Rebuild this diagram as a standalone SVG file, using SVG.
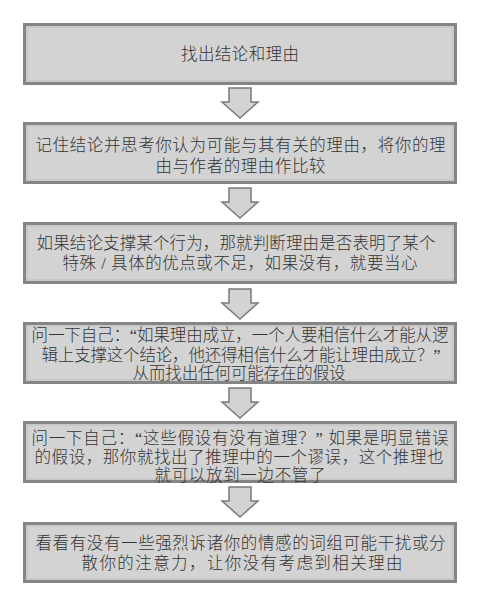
<svg xmlns="http://www.w3.org/2000/svg" xmlns:xlink="http://www.w3.org/1999/xlink" width="493" height="603" viewBox="0 0 493 603">
<style>
.box{fill:#d3d3d3;stroke:#858585;stroke-width:3}
.inner{fill:none;stroke:#bdbdbd;stroke-width:1}
.t{font-family:"Liberation Serif","Noto Sans CJK SC",serif;font-size:16.5px;font-weight:300;fill:#333333;text-anchor:middle;dominant-baseline:central}
.arrow{fill:#d3d3d3;stroke:#7a7a7a;stroke-width:1.5;stroke-linejoin:miter}
</style>
<defs>
<path id="arr" class="arrow" d="M229,0 H251 V14 H258 L240,30 L222,14 H229 Z"/>
</defs>
<rect width="493" height="603" fill="#ffffff"/>
<g id="connectors">
<use xlink:href="#arr" href="#arr" transform="translate(0,88)"/>
<use xlink:href="#arr" href="#arr" transform="translate(0,188)"/>
<use xlink:href="#arr" href="#arr" transform="translate(0,289)"/>
<use xlink:href="#arr" href="#arr" transform="translate(0,388)"/>
<use xlink:href="#arr" href="#arr" transform="translate(0,487)"/>
</g>
<g id="node1">
<rect class="box" x="24.5" y="24.5" width="431" height="59"/>
<rect class="inner" x="27" y="27" width="426" height="54"/>
<text class="t" x="240" y="54" textLength="118" lengthAdjust="spacing">找出结论和理由</text>
</g>
<g id="node2">
<rect class="box" x="24.5" y="123.5" width="431" height="59"/>
<rect class="inner" x="27" y="126" width="426" height="54"/>
<text class="t" x="240.5" y="145" textLength="410" lengthAdjust="spacing">记住结论并思考你认为可能与其有关的理由，将你的理</text>
<text class="t" x="240.5" y="166" textLength="170" lengthAdjust="spacing">由与作者的理由作比较</text>
</g>
<g id="node3">
<rect class="box" x="24.5" y="223.5" width="431" height="59"/>
<rect class="inner" x="27" y="226" width="426" height="54"/>
<text class="t" x="236" y="243" textLength="399" lengthAdjust="spacing">如果结论支撑某个行为，那就判断理由是否表明了某个</text>
<text class="t" x="240" y="263" textLength="355" lengthAdjust="spacing">特殊 / 具体的优点或不足，如果没有，就要当心</text>
</g>
<g id="node4">
<rect class="box" x="24.5" y="323.5" width="431" height="59"/>
<rect class="inner" x="27" y="326" width="426" height="54"/>
<text class="t" x="240" y="335" textLength="417" lengthAdjust="spacing">问一下自己：“如果理由成立，一个人要相信什么才能从逻</text>
<text class="t" x="241" y="355" textLength="399" lengthAdjust="spacing">辑上支撑这个结论，他还得相信什么才能让理由成立？”</text>
<text class="t" x="239" y="373" textLength="213" lengthAdjust="spacing">从而找出任何可能存在的假设</text>
</g>
<g id="node5">
<rect class="box" x="24.5" y="422.5" width="431" height="59"/>
<rect class="inner" x="27" y="425" width="426" height="54"/>
<text class="t" x="240" y="438" textLength="417" lengthAdjust="spacing">问一下自己：“这些假设有没有道理？” 如果是明显错误</text>
<text class="t" x="239" y="457" textLength="409" lengthAdjust="spacing">的假设，那你就找出了推理中的一个谬误，这个推理也</text>
<text class="t" x="240" y="475" textLength="171" lengthAdjust="spacing">就可以放到一边不管了</text>
</g>
<g id="node6">
<rect class="box" x="24.5" y="523.5" width="431" height="58"/>
<rect class="inner" x="27" y="526" width="426" height="53"/>
<text class="t" x="240.5" y="543" textLength="410" lengthAdjust="spacing">看看有没有一些强烈诉诸你的情感的词组可能干扰或分</text>
<text class="t" x="242" y="563" textLength="321" lengthAdjust="spacing">散你的注意力，让你没有考虑到相关理由</text>
</g>
</svg>
